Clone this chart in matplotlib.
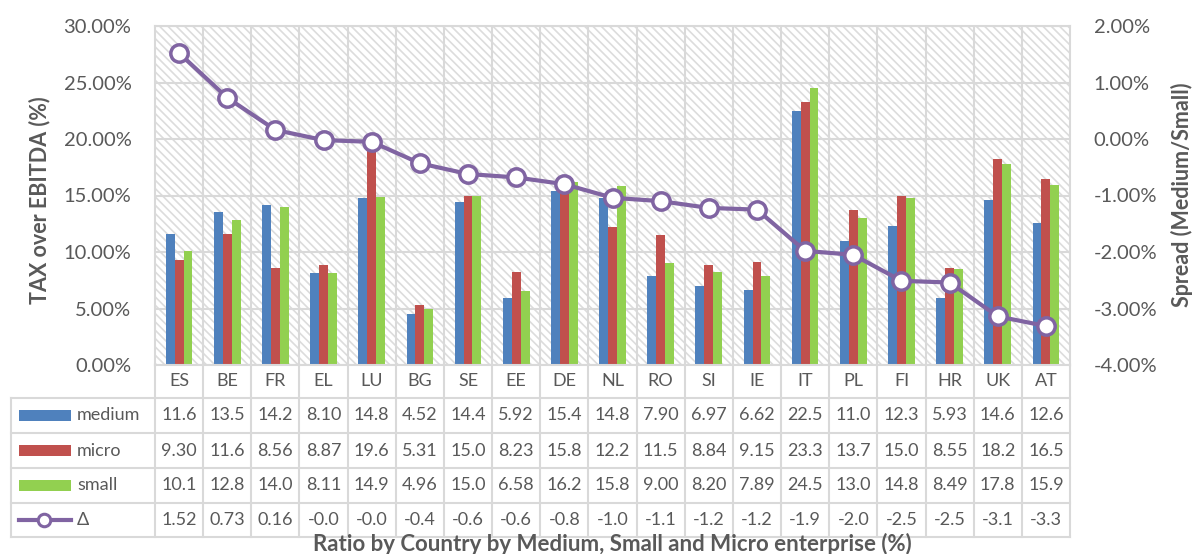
import matplotlib
matplotlib.use('Agg')
import matplotlib.pyplot as plt
from matplotlib.transforms import blended_transform_factory
from matplotlib.patches import Rectangle
from matplotlib.lines import Line2D

countries = ['ES', 'BE', 'FR', 'EL', 'LU', 'BG', 'SE', 'EE', 'DE', 'NL',
             'RO', 'SI', 'IE', 'IT', 'PL', 'FI', 'HR', 'UK', 'AT']
medium = [11.6, 13.5, 14.2, 8.10, 14.8, 4.52, 14.4, 5.92, 15.4, 14.8,
          7.90, 6.97, 6.62, 22.5, 11.0, 12.3, 5.93, 14.6, 12.6]
micro = [9.30, 11.6, 8.56, 8.87, 19.6, 5.31, 15.0, 8.23, 15.8, 12.2,
         11.5, 8.84, 9.15, 23.3, 13.7, 15.0, 8.55, 18.2, 16.5]
small = [10.1, 12.8, 14.0, 8.11, 14.9, 4.96, 15.0, 6.58, 16.2, 15.8,
         9.00, 8.20, 7.89, 24.5, 13.0, 14.8, 8.49, 17.8, 15.9]
delta = [1.52, 0.73, 0.16, -0.02, -0.05, -0.43, -0.62, -0.68, -0.80, -1.04,
         -1.10, -1.22, -1.25, -1.98, -2.05, -2.51, -2.54, -3.14, -3.31]
medium_labels = ['11.6', '13.5', '14.2', '8.10', '14.8', '4.52', '14.4', '5.92', '15.4', '14.8',
                 '7.90', '6.97', '6.62', '22.5', '11.0', '12.3', '5.93', '14.6', '12.6']
micro_labels = ['9.30', '11.6', '8.56', '8.87', '19.6', '5.31', '15.0', '8.23', '15.8', '12.2',
                '11.5', '8.84', '9.15', '23.3', '13.7', '15.0', '8.55', '18.2', '16.5']
small_labels = ['10.1', '12.8', '14.0', '8.11', '14.9', '4.96', '15.0', '6.58', '16.2', '15.8',
                '9.00', '8.20', '7.89', '24.5', '13.0', '14.8', '8.49', '17.8', '15.9']
delta_labels = ['1.52', '0.73', '0.16', '-0.0', '-0.0', '-0.4', '-0.6', '-0.6', '-0.8', '-1.0',
                '-1.1', '-1.2', '-1.2', '-1.9', '-2.0', '-2.5', '-2.5', '-3.1', '-3.3']
series_names = ['medium', 'micro', 'small', 'Δ']
left_ticks = [0, 5, 10, 15, 20, 25, 30]
right_ticks = [-4, -3, -2, -1, 0, 1, 2]

C_MED = '#4F81BD'
C_MIC = '#C0504D'
C_SMA = '#92D050'
C_DEL = '#8064A2'
GRID = '#D9D9D9'
TXT = '#595959'

plt.rcParams['font.family'] = ['Lato', 'DejaVu Sans']
plt.rcParams['hatch.linewidth'] = 1.2

W, H = 1195, 554
fig = plt.figure(figsize=(W / 100, H / 100), dpi=100)
L, R, T, B = 155, 1070, 26, 365
ax = fig.add_axes([L / W, 1 - B / H, (R - L) / W, (B - T) / H])

n = len(countries)
x = list(range(n))
ax.set_xlim(-0.5, n - 0.5)
ax.set_ylim(0, 30)

# hatched background
ax.add_patch(Rectangle((0, 0), 1, 1, transform=ax.transAxes, facecolor='white',
                       edgecolor='#DCDCDC', hatch='\\\\\\\\', lw=0, zorder=0.1))

bw = 0.185
ax.bar([i - bw for i in x], medium, bw, color=C_MED, zorder=2)
ax.bar(x, micro, bw, color=C_MIC, zorder=2)
ax.bar([i + bw for i in x], small, bw, color=C_SMA, zorder=2)

ax.set_yticks(left_ticks)
ax.set_yticklabels([f'{v:.2f}%' for v in left_ticks])
ax.set_xticks([i + 0.5 for i in x[:-1]])
ax.set_xticklabels([])
ax.grid(True, color=GRID, lw=1.5, zorder=0.5)
ax.set_axisbelow(True)
ax.tick_params(axis='both', length=0)
ax.tick_params(axis='y', labelsize=14.5, labelcolor=TXT, pad=17)
for s in ax.spines.values():
    s.set_color(GRID)
    s.set_linewidth(1.5)

ax2 = ax.twinx()
ax2.set_ylim(-4, 2)
ax2.set_yticks(right_ticks)
ax2.set_yticklabels([f'{v:.2f}%' for v in right_ticks])
ax2.tick_params(axis='y', length=0, labelsize=14.5, labelcolor=TXT, pad=17)
for s in ax2.spines.values():
    s.set_visible(False)
ax2.plot(x, delta, color=C_DEL, lw=3, marker='o', ms=12.5, mfc='white',
         mec=C_DEL, mew=2.5, zorder=5, clip_on=False)

# data table
tr = blended_transform_factory(ax.transData, fig.transFigure)
def fy(py):
    return 1 - py / H

rows = [365, 398, 433, 468, 503, 537]
tab_left = 11
for b in [i - 0.5 for i in range(n + 1)]:
    ax.add_line(Line2D([b, b], [fy(365), fy(537)], transform=tr, color=GRID,
                       lw=1.5, clip_on=False))
fig.add_artist(Line2D([tab_left / W, tab_left / W], [fy(398), fy(537)], color=GRID, lw=1.5))
for r in rows[1:]:
    fig.add_artist(Line2D([tab_left / W, R / W], [fy(r), fy(r)], color=GRID, lw=1.5))

fs_tab = 13
for i, c in enumerate(countries):
    ax.text(i, fy((rows[0] + rows[1]) / 2), c, transform=tr, ha='center', va='center',
            fontsize=fs_tab, color=TXT, clip_on=False)

table_rows = [medium_labels, micro_labels, small_labels, delta_labels]
colors = [C_MED, C_MIC, C_SMA, C_DEL]
for k, (labs, col, name) in enumerate(zip(table_rows, colors, series_names)):
    cy = fy((rows[k + 1] + rows[k + 2]) / 2)
    for i, lab in enumerate(labs):
        ax.text(i, cy, lab, transform=tr, ha='center', va='center',
                fontsize=fs_tab, color=TXT, clip_on=False)
    if k < 3:
        fig.add_artist(Rectangle((19 / W, cy - 5.5 / H), 52 / W, 11 / H,
                                 facecolor=col, edgecolor='none'))
    else:
        fig.add_artist(Line2D([19 / W, 71 / W], [cy, cy], color=col, lw=3))
        fig.add_artist(Line2D([44 / W], [cy], color=col, marker='o', ms=9,
                              mfc='white', mec=col, mew=2.2))
    fig.text(77 / W, cy, name, ha='left', va='center', fontsize=fs_tab, color=TXT)

fig.text(40 / W, fy(200), 'TAX over EBITDA (%)', rotation=90, ha='center', va='center',
         fontsize=15.5, fontweight='bold', color=TXT)
fig.text(1182 / W, fy(195), 'Spread (Medium/Small)', rotation=90, ha='center', va='center',
         fontsize=15.5, fontweight='bold', color=TXT)
fig.text(612 / W, fy(544), 'Ratio by Country by Medium, Small and Micro enterprise (%)',
         ha='center', va='center', fontsize=16, fontweight='bold', color=TXT)

fig.savefig('out.png', dpi=100)
